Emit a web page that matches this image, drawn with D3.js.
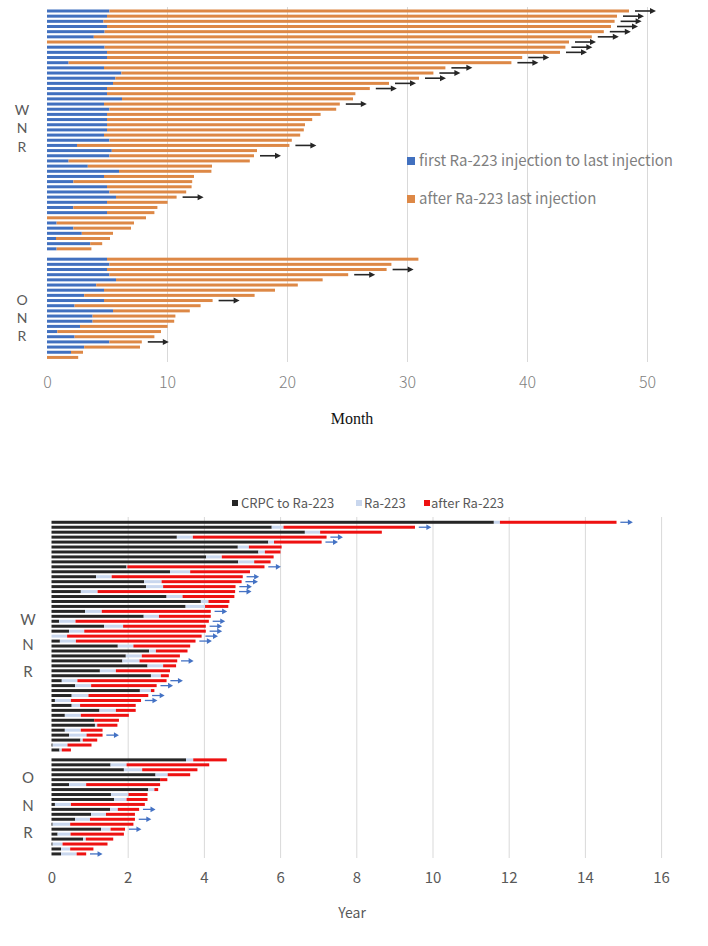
<!DOCTYPE html>
<html><head><meta charset="utf-8">
<script src="https://cdn.jsdelivr.net/npm/d3@7"></script>
<style>
html,body{margin:0;padding:0;background:#fff;}
svg{display:block;}
</style></head><body>
<svg id="c" width="708" height="946"></svg>
<script>
// ---------------- TOP PANEL DATA (months) ----------------
const monthTicks = [0, 10, 20, 30, 40, 50];
const topLegend = ["first Ra-223 injection to last injection", "after Ra-223 last injection"];
// WNR: end of injection period, end of follow-up, ongoing flag
const wnrInjMonths = [5.2,5.0,4.7,5.0,4.8,3.9,0,4.8,5.0,5.0,1.8,4.75,6.2,5.7,5.5,5.0,5.0,6.25,4.75,5.2,5.0,5.0,5.0,5.0,4.75,5.2,2.5,5.4,5.2,1.8,3.4,6.0,4.75,2.2,5.0,5.2,5.75,5.0,2.2,5.0,0,0.8,2.2,2.9,0.75,3.6,0.8];
const wnrTotalMonths = [48.5,47.5,47.3,47.0,46.4,45.4,43.5,43.2,42.75,39.6,38.7,33.2,32.2,31.0,28.5,26.9,25.7,25.5,24.4,24.1,22.8,22.1,21.5,21.4,21.1,20.4,20.2,17.5,17.25,16.9,13.75,13.7,12.25,12.1,12.05,11.6,10.8,10.05,9.2,8.95,8.25,7.25,7.0,5.5,5.25,4.6,3.7];
const wnrOngoingTop = [1,1,1,1,1,1,1,1,1,1,1,1,1,1,1,1,0,0,1,0,0,0,0,0,0,0,1,0,1,0,0,0,0,0,0,0,1,0,0,0,0,0,0,0,0,0,0];
// ONR
const onrInjMonths = [5.0,5.2,5.0,5.2,5.75,4.1,4.75,3.1,4.75,2.3,5.5,3.8,3.8,2.75,0.86,2.3,5.2,3.1,2.0,0];
const onrTotalMonths = [30.95,28.7,28.3,25.1,22.97,20.9,19.0,17.3,13.8,12.8,11.9,10.7,10.6,10.05,9.5,8.95,7.9,7.75,3.0,2.6];
const onrOngoingTop = [0,0,1,1,0,0,0,0,1,0,0,0,0,0,0,0,1,0,0,0];

// ---------------- BOTTOM PANEL DATA (years) ----------------
const yearTicks = [0, 2, 4, 6, 8, 10, 12, 14, 16];
const bottomLegend = ["CRPC to Ra-223", "Ra-223", "after Ra-223"];
const wnrCrpcYears = [11.61,5.78,6.65,3.29,5.69,4.89,5.43,4.06,4.90,1.97,3.11,1.17,2.43,2.48,0.77,3.02,3.92,3.52,0.88,2.42,0.20,1.38,0.46,0.00,0.22,1.74,2.56,1.95,1.86,2.52,1.27,2.61,0.27,0.62,2.32,0.53,0.09,0.53,1.26,0.35,1.12,1.14,0.35,0.46,0.76,0.03,0.21];
const wnrRaEndYears = [11.77,6.09,7.05,3.71,5.84,5.18,5.60,4.47,5.32,1.99,3.64,1.58,2.89,2.93,1.21,3.44,4.12,4.03,1.32,2.82,0.63,1.88,0.86,0.41,0.64,2.15,2.74,2.37,2.31,2.93,1.69,2.87,0.68,1.04,2.61,0.97,0.51,0.75,1.69,0.77,1.12,1.20,0.77,0.92,0.82,0.42,0.27];
const wnrEndYears = [14.83,9.54,8.67,7.22,7.09,6.04,6.01,5.83,5.75,5.59,5.21,5.02,4.99,4.83,4.82,4.80,4.67,4.64,4.18,4.18,4.13,4.05,4.05,3.94,3.78,3.64,3.57,3.37,3.30,3.27,3.11,3.08,3.02,2.76,2.70,2.54,2.35,2.21,2.21,2.03,1.77,1.73,1.34,1.34,1.20,1.05,0.51];
const wnrOngoingBottom = [1,1,0,1,1,0,0,0,0,1,0,1,1,1,1,0,0,0,1,0,1,1,1,1,1,0,0,0,1,0,0,0,1,1,0,1,1,0,0,0,0,0,0,1,0,0,0];
const onrCrpcYears = [3.53,1.55,1.90,2.73,2.85,0.46,2.54,1.56,1.64,0.09,1.54,1.04,0.62,0.03,1.30,0.16,0.83,0.03,0.25,0.25];
const onrRaEndYears = [3.72,1.97,2.38,3.05,2.85,0.91,2.70,2.02,1.97,0.51,1.74,1.43,1.01,0.49,1.55,0.50,0.90,0.29,0.49,0.66];
const onrEndYears = [4.60,4.14,3.83,3.64,3.04,2.85,2.80,2.52,2.52,2.45,2.30,2.19,2.19,2.15,1.93,1.90,1.62,1.47,1.10,0.91];
const onrOngoingBottom = [0,0,0,0,0,0,0,0,0,0,1,0,1,0,1,0,0,0,0,1];

const groupLabelsW = ["W", "N", "R"];
const groupLabelsO = ["O", "N", "R"];

// ---------------- RENDER ----------------
const svg = d3.select("#c");
const FONT = "'Noto Sans CJK JP','Noto Sans',sans-serif";
const LFONT = "Lato,'Noto Sans',sans-serif";

function rowKeys(nW, nO) {
  const k = [];
  for (let i = 0; i < nW; i++) k.push("W" + i);
  k.push("gap");
  for (let i = 0; i < nO; i++) k.push("O" + i);
  return k;
}

function arrow(g, x1, x2, yc, color, sw, hl, hw) {
  g.append("line").attr("x1", x1).attr("x2", x2 - hl + 1).attr("y1", yc).attr("y2", yc)
    .attr("stroke", color).attr("stroke-width", sw);
  g.append("path").attr("d", `M${x2},${yc} L${x2 - hl},${yc - hw} L${x2 - hl},${yc + hw} Z`).attr("fill", color);
}

// ===== TOP =====
(function () {
  const g = svg.append("g");
  const x = d3.scaleLinear().domain([0, 50]).range([47, 647]);
  const keys = rowKeys(wnrTotalMonths.length, onrTotalMonths.length);
  const y = d3.scaleBand().domain(keys).range([8.4, 360]).padding(0);
  const bh = 3;
  const blue = "#4170BF", orange = "#DD8846";

  g.append("g").attr("transform", "translate(0,362)")
    .call(d3.axisBottom(x).tickValues(monthTicks.filter(d => d > 0)).tickSize(-355).tickFormat(""))
    .call(s => s.select(".domain").remove())
    .call(s => s.selectAll("line").attr("stroke", "#d9d9d9"));

  const rows = [];
  wnrTotalMonths.forEach((t, i) => rows.push({ k: "W" + i, a: wnrInjMonths[i], t, o: wnrOngoingTop[i] }));
  onrTotalMonths.forEach((t, i) => rows.push({ k: "O" + i, a: onrInjMonths[i], t, o: onrOngoingTop[i] }));

  const off = (y.bandwidth() - bh) / 2;
  g.selectAll("rect.b").data(rows).join("rect").attr("class", "b")
    .attr("x", x(0)).attr("y", d => y(d.k) + off).attr("width", d => x(d.a) - x(0)).attr("height", bh).attr("fill", blue);
  g.selectAll("rect.o").data(rows).join("rect").attr("class", "o")
    .attr("x", d => x(d.a)).attr("y", d => y(d.k) + off).attr("width", d => x(d.t) - x(d.a)).attr("height", bh).attr("fill", orange);
  rows.filter(d => d.o).forEach(d => {
    const yc = y(d.k) + y.bandwidth() / 2;
    arrow(g, x(d.t + 0.5), x(d.t + 2.25), yc, "#262626", 1.6, 6, 3);
  });

  g.append("g").attr("transform", "translate(0,382)")
    .call(d3.axisBottom(x).tickValues(monthTicks).tickSize(0).tickPadding(0))
    .call(s => s.select(".domain").remove())
    .call(s => s.selectAll("text").attr("dy", "0.35em").attr("fill", "#7f7f7f")
      .attr("font-size", 16).attr("font-family", FONT).attr("font-weight", 300));
  g.append("text").attr("x", 352).attr("y", 418).attr("dy", "0.35em").attr("text-anchor", "middle")
    .attr("font-family", "'Liberation Serif',serif").attr("font-size", 16).attr("fill", "#111").text("Month");

  [110, 128, 147].forEach((yy, i) => g.append("text").attr("x", 22).attr("y", yy).attr("dy", "0.35em").attr("text-anchor", "middle")
    .attr("font-family", LFONT).attr("font-size", 14).attr("fill", "#595959").text(groupLabelsW[i]));
  [300, 318, 336].forEach((yy, i) => g.append("text").attr("x", 22).attr("y", yy).attr("dy", "0.35em").attr("text-anchor", "middle")
    .attr("font-family", LFONT).attr("font-size", 14).attr("fill", "#595959").text(groupLabelsO[i]));

  const lc = [blue, orange];
  [161, 199].forEach((yy, i) => {
    g.append("rect").attr("x", 407).attr("y", yy - 4).attr("width", 8).attr("height", 8).attr("fill", lc[i]);
    g.append("text").attr("x", 419).attr("y", yy).attr("dy", "0.35em").attr("font-family", FONT)
      .attr("font-size", 15).attr("fill", "#7f7f7f").text(topLegend[i]);
  });
})();

// ===== BOTTOM =====
(function () {
  const g = svg.append("g");
  const x = d3.scaleLinear().domain([0, 16]).range([51.5, 661.1]);
  const keys = rowKeys(wnrEndYears.length, onrEndYears.length);
  const y = d3.scaleBand().domain(keys).range([519.8, 856.4]).padding(0);
  const bh = 3;
  const black = "#262626", light = "#C9D7EE", red = "#EE1111";

  g.append("g").attr("transform", "translate(0,858)")
    .call(d3.axisBottom(x).tickValues(yearTicks.filter(d => d > 0)).tickSize(-341).tickFormat(""))
    .call(s => s.select(".domain").remove())
    .call(s => s.selectAll("line").attr("stroke", "#d9d9d9"));

  const rows = [];
  wnrEndYears.forEach((t, i) => rows.push({ k: "W" + i, c: wnrCrpcYears[i], r: wnrRaEndYears[i], t, o: wnrOngoingBottom[i] }));
  onrEndYears.forEach((t, i) => rows.push({ k: "O" + i, c: onrCrpcYears[i], r: onrRaEndYears[i], t, o: onrOngoingBottom[i] }));
  const off = (y.bandwidth() - bh) / 2;
  g.selectAll("rect.k").data(rows).join("rect").attr("class", "k")
    .attr("x", x(0)).attr("y", d => y(d.k) + off).attr("width", d => x(d.c) - x(0)).attr("height", bh).attr("fill", black);
  g.selectAll("rect.l").data(rows).join("rect").attr("class", "l")
    .attr("x", d => x(d.c)).attr("y", d => y(d.k) + off).attr("width", d => x(d.r) - x(d.c)).attr("height", bh).attr("fill", light);
  g.selectAll("rect.r").data(rows).join("rect").attr("class", "r")
    .attr("x", d => x(d.r)).attr("y", d => y(d.k) + off).attr("width", d => x(d.t) - x(d.r)).attr("height", bh).attr("fill", red);
  rows.filter(d => d.o).forEach(d => {
    const yc = y(d.k) + y.bandwidth() / 2;
    arrow(g, x(d.t + 0.1), x(d.t + 0.43), yc, "#4472C4", 1.3, 5, 2.8);
  });

  g.append("g").attr("transform", "translate(0,878)")
    .call(d3.axisBottom(x).tickValues(yearTicks).tickSize(0).tickPadding(0))
    .call(s => s.select(".domain").remove())
    .call(s => s.selectAll("text").attr("dy", "0.35em").attr("fill", "#595959")
      .attr("font-size", 15).attr("font-family", FONT));
  g.append("text").attr("x", 352).attr("y", 913).attr("dy", "0.35em").attr("text-anchor", "middle")
    .attr("font-family", FONT).attr("font-size", 14).attr("fill", "#595959").text("Year");

  [620, 645, 672].forEach((yy, i) => g.append("text").attr("x", 28).attr("y", yy).attr("dy", "0.35em").attr("text-anchor", "middle")
    .attr("font-family", LFONT).attr("font-size", 15).attr("fill", "#595959").text(groupLabelsW[i]));
  [778, 806, 833].forEach((yy, i) => g.append("text").attr("x", 28).attr("y", yy).attr("dy", "0.35em").attr("text-anchor", "middle")
    .attr("font-family", LFONT).attr("font-size", 15).attr("fill", "#595959").text(groupLabelsO[i]));

  const lx = [232, 356, 424], tx = [241, 364, 431], lcol = [black, light, red];
  bottomLegend.forEach((t, i) => {
    g.append("rect").attr("x", lx[i]).attr("y", 503 - 3).attr("width", 6).attr("height", 6).attr("fill", lcol[i]);
    g.append("text").attr("x", tx[i]).attr("y", 503).attr("dy", "0.35em").attr("font-family", FONT)
      .attr("font-size", 13).attr("fill", "#595959").text(t);
  });
})();
</script>
</body></html>
